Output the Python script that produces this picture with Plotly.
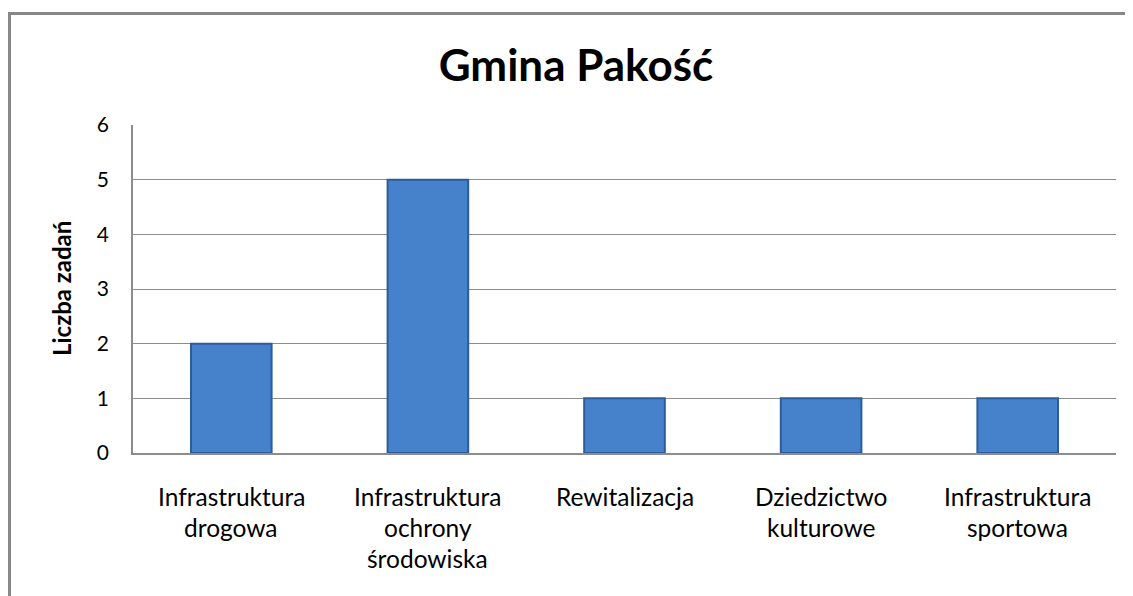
import plotly.graph_objects as go

categories = ["Infrastruktura drogowa", "Infrastruktura ochrony środowiska",
              "Rewitalizacja", "Dziedzictwo kulturowe", "Infrastruktura sportowa"]
label_lines = [["Infrastruktura", "drogowa"],
               ["Infrastruktura", "ochrony", "środowiska"],
               ["Rewitalizacja"],
               ["Dziedzictwo", "kulturowe"],
               ["Infrastruktura", "sportowa"]]
values = [2, 5, 1, 1, 1]
y_ticks = [0, 1, 2, 3, 4, 5, 6]
title = "Gmina Pakość"
y_title = "Liczba zadań"

FONT = "Lato"
# page body has an 8px margin; figure is sized/offset to compensate
W, H = 1125, 588
L, R, T, B = 125, 17, 117, 143
PW, PH = W - L - R, H - T - B

fig = go.Figure()
fig.add_trace(go.Bar(
    x=categories, y=values, width=0.41,
    marker=dict(color="#4682CC", line=dict(color="#2C5C9A", width=2)),
    hoverinfo="x+y",
))

annotations = []
for cat, lines in zip(categories, label_lines):
    for i, ln in enumerate(lines):
        annotations.append(dict(
            x=cat, xref="x", y=0, yref="paper", text=ln, showarrow=False,
            yanchor="middle", xanchor="center", yshift=-43 - 31 * i,
            font=dict(family=FONT, size=24.5, color="#000000")))
annotations.append(dict(
    x=0, xref="paper", y=0.5, yref="paper", text="<b>%s</b>" % y_title, showarrow=False,
    textangle=-90, xanchor="center", yanchor="middle", xshift=-72,
    font=dict(family=FONT, size=24, color="#000000")))

bx = (1.5 - L) / PW
by = 1 + (T - 5.5) / PH

fig.update_layout(
    width=W, height=H,
    margin=dict(l=L, r=R, t=T, b=B),
    paper_bgcolor="white", plot_bgcolor="white",
    title=dict(text="<b>%s</b>" % title, x=(576 - 8) / W, xanchor="center",
               y=1 - (66 - 8) / H, yanchor="middle",
               font=dict(family=FONT, size=44, color="#000000")),
    showlegend=False,
    annotations=annotations,
    shapes=[dict(type="rect", xref="paper", yref="paper", x0=bx, x1=1.5, y0=-1.0, y1=by,
                 line=dict(color="#878787", width=3), layer="below")],
)
fig.update_xaxes(showticklabels=False, showline=True, linecolor="#8C8C8C", linewidth=1.5,
                 ticks="", showgrid=False)
fig.update_yaxes(range=[0, 6], tickvals=y_ticks, showgrid=True, gridcolor="#8C8C8C", gridwidth=1.3,
                 showline=True, linecolor="#8C8C8C", linewidth=1.5, ticks="",
                 ticklabelstandoff=18,
                 tickfont=dict(family=FONT, size=21, color="#000000"),
                 zeroline=False)

fig.write_html("out.html")
